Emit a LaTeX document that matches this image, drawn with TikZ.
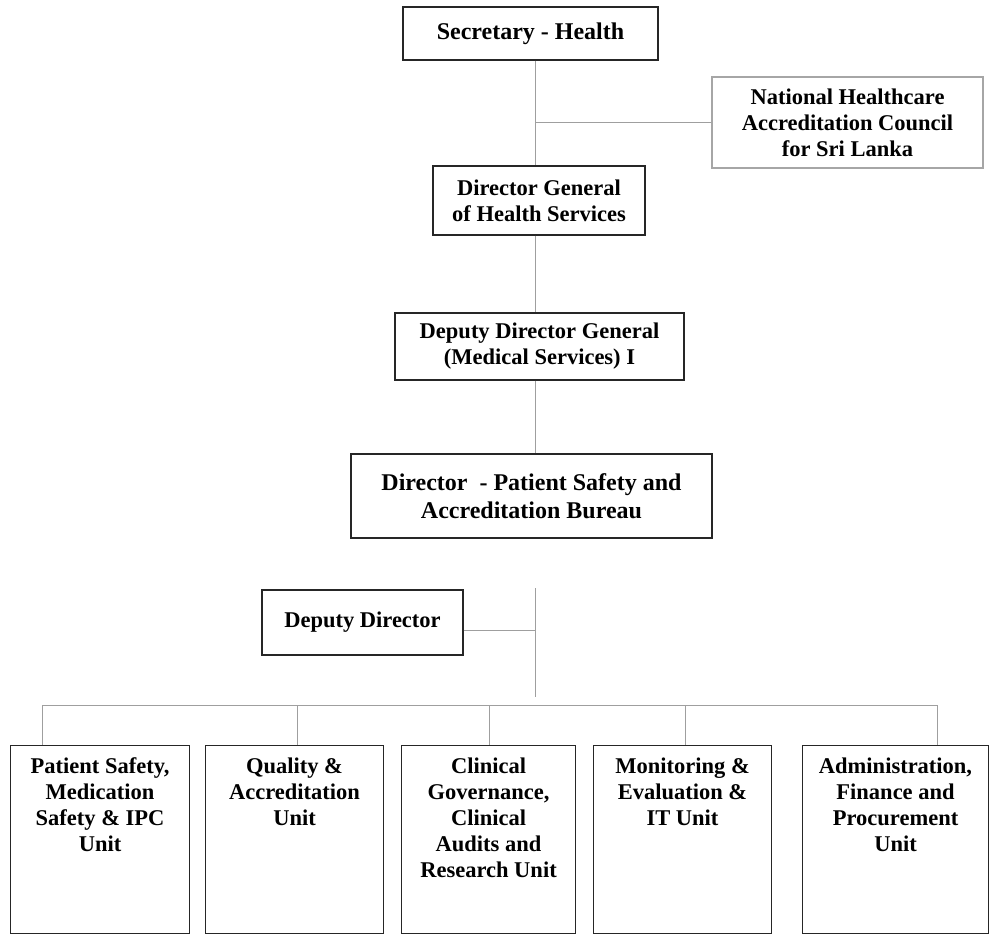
\documentclass[tikz,border=0pt]{standalone}
\usepackage{fontspec}
\setmainfont{Liberation Serif}
\begin{document}
\begin{tikzpicture}[x=1pt,y=-1pt,
  box/.style={draw=black!85,line width=1.1pt,inner sep=0pt,font=\bfseries\fontsize{22.5}{26}\selectfont,align=center},
  bigbox/.style={box,font=\bfseries\fontsize{24}{28}\selectfont},
  greybox/.style={box,draw=gray!70,line width=1.3pt},
  conn/.style={draw=gray!75,line width=0.9pt}]
\useasboundingbox (0,0) rectangle (991,934);
\fill[white] (0,0) rectangle (991,934);
% top chain
\node[bigbox,minimum width=255pt,minimum height=53pt] (sec) at (530.5,33.5) {Secretary - Health};
\node[greybox,minimum width=271pt,minimum height=91pt] (nhac) at (847.5,122.5) {National Healthcare\\Accreditation Council\\for Sri Lanka};
\node[box,minimum width=212pt,minimum height=69pt] (dg) at (539,200.5) {Director General\\of Health Services};
\node[box,minimum width=289pt,minimum height=67pt] (ddg) at (539.5,346.5) {Deputy Director General\\(Medical Services) I};
\node[bigbox,minimum width=361pt,minimum height=84pt] (dir) at (531.5,496) {Director\ \ - Patient Safety and\\Accreditation Bureau};
\node[box,minimum width=201pt,minimum height=65pt] (dd) at (362.5,622.5) {Deputy Director};
% units
\node[box,anchor=north west] (u1) at (10,745) {\parbox[c][188pt][t]{179pt}{\centering\vspace{12pt}Patient Safety,\\Medication\\Safety \& IPC\\Unit}};
\node[box,anchor=north west] (u2) at (205,745) {\parbox[c][188pt][t]{178pt}{\centering\vspace{12pt}Quality \&\\Accreditation\\Unit}};
\node[box,anchor=north west] (u3) at (401,745) {\parbox[c][188pt][t]{174pt}{\centering\vspace{12pt}Clinical\\Governance,\\Clinical\\Audits and\\Research Unit}};
\node[box,anchor=north west] (u4) at (593,745) {\parbox[c][188pt][t]{178pt}{\centering\vspace{12pt}Monitoring \&\\Evaluation \&\\IT Unit}};
\node[box,anchor=north west] (u5) at (802,745) {\parbox[c][188pt][t]{186pt}{\centering\vspace{12pt}Administration,\\Finance and\\Procurement\\Unit}};
% connectors
\coordinate (spine) at (535,0);
\coordinate (dirlow) at (535,588);
\coordinate (spineend) at (535,697);
\coordinate (busL) at (42,705);
\coordinate (busR) at (937,705);
\draw[conn] (sec.south -| spine) -- (dg.north -| spine);
\draw[conn] (nhac.west) -- (nhac.west -| spine);
\draw[conn] (dg.south -| spine) -- (ddg.north -| spine);
\draw[conn] (ddg.south -| spine) -- (dir.north -| spine);
\draw[conn] (dirlow) -- (spineend);
\draw[conn] (dd.east |- 0,630) -- (spine |- 0,630);
\draw[conn] (busL) -- (busR);
\draw[conn] (busL) -- (busL |- u1.north);
\draw[conn] (u2.north -| 297,0) -- (297,705);
\draw[conn] (u3.north -| 489,0) -- (489,705);
\draw[conn] (u4.north -| 685,0) -- (685,705);
\draw[conn] (busR) -- (busR |- u5.north);
\end{tikzpicture}
\end{document}
